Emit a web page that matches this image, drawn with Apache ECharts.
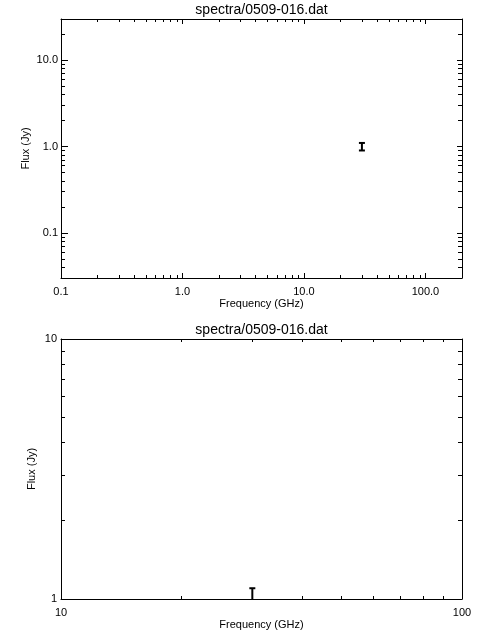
<!DOCTYPE html>
<html><head><meta charset="utf-8">
<script src="https://cdn.jsdelivr.net/npm/echarts@6/dist/echarts.min.js"></script>
<style>html,body{margin:0;padding:0;background:#fff}#c{width:480px;height:640px}</style>
</head><body><div id="c"></div>
<script>
// ---- data ----
const titleText = 'spectra/0509-016.dat';
const xName = 'Frequency (GHz)';
const yName = 'Flux (Jy)';

// top panel (log-log, wide range)
const topFreq = [30];
const topFlux = [1.0];
const topErr = [0.1];
const topXRange = [0.1, 200];
const topYRange = [0.03, 30];
const topXMajor = [0.1, 1, 10, 100];
const topXMinor = [0.2,0.3,0.4,0.5,0.6,0.7,0.8,0.9,2,3,4,5,6,7,8,9,20,30,40,50,60,70,80,90];
const topYMajor = [0.1, 1, 10];
const topYMinor = [0.04,0.05,0.06,0.07,0.08,0.09,0.2,0.3,0.4,0.5,0.6,0.7,0.8,0.9,2,3,4,5,6,7,8,9,20];

// bottom panel (zoomed)
const botFreq = [30];
const botFlux = [1.0];
const botErr = [0.1];
const botXRange = [10, 100];
const botYRange = [1, 10];
const botXMajor = [10, 100];
const botXMinor = [20,30,40,50,60,70,80,90];
const botYMajor = [1, 10];
const botYMinor = [2,3,4,5,6,7,8,9];

// ---- chart ----
const FONT = 'Liberation Sans';
const black = '#000';
const fmt1 = v => (Math.abs(v - 0.1) < 1e-9 ? '0.1' : Number(v).toFixed(1));
const fmt0 = v => String(Math.round(v));

function mkAxis(kind, grid, pos, range, ticks, len, opts) {
  opts = opts || {};
  const ax = {
    type: 'log', logBase: 10, gridIndex: grid, position: pos,
    min: range[0], max: range[1],
    axisLine: { show: !!opts.line, onZero: false, lineStyle: { color: black, width: 1 } },
    axisTick: { show: true, inside: true, length: len, customValues: ticks, lineStyle: { color: black, width: 1 } },
    axisLabel: { show: !!opts.labels },
    splitLine: { show: false },
    minorTick: { show: false },
    minorSplitLine: { show: false }
  };
  if (opts.labels) {
    ax.axisLabel = {
      show: true, customValues: opts.labels, formatter: opts.fmt,
      color: black, fontFamily: FONT, fontSize: 11, margin: opts.margin,
      hideOverlap: false, showMinLabel: true, showMaxLabel: true
    };
  }
  if (opts.name) {
    ax.name = opts.name;
    ax.nameLocation = 'middle';
    ax.nameGap = opts.nameGap;
    ax.nameMoveOverlap = false;
    ax.nameTextStyle = { color: black, fontFamily: FONT, fontSize: 11 };
    if (kind === 'y') ax.nameRotate = 90;
  }
  return ax;
}

const xAxes = [
  // top grid
  mkAxis('x', 0, 'bottom', topXRange, topXMajor, 5, { line: true, labels: topXMajor, fmt: fmt1, margin: 8, name: xName, nameGap: 20 }),
  mkAxis('x', 0, 'bottom', topXRange, topXMinor, 3),
  mkAxis('x', 0, 'top', topXRange, topXMajor, 5, { line: true }),
  mkAxis('x', 0, 'top', topXRange, topXMinor, 3),
  // bottom grid
  mkAxis('x', 1, 'bottom', botXRange, botXMajor, 5, { line: true, labels: botXMajor, fmt: fmt0, margin: 8, name: xName, nameGap: 20 }),
  mkAxis('x', 1, 'bottom', botXRange, botXMinor, 3),
  mkAxis('x', 1, 'top', botXRange, botXMajor, 5, { line: true }),
  mkAxis('x', 1, 'top', botXRange, botXMinor, 3)
];
const yAxes = [
  mkAxis('y', 0, 'left', topYRange, topYMajor, 7, { line: true, labels: topYMajor, fmt: fmt1, margin: 3, name: yName, nameGap: 30 }),
  mkAxis('y', 0, 'left', topYRange, topYMinor, 4),
  mkAxis('y', 0, 'right', topYRange, topYMajor, 5, { line: true }),
  mkAxis('y', 0, 'right', topYRange, topYMinor, 4),
  mkAxis('y', 1, 'left', botYRange, botYMajor, 7, { line: true, labels: botYMajor, fmt: fmt0, margin: 4, name: yName, nameGap: 24 }),
  mkAxis('y', 1, 'left', botYRange, botYMinor, 4),
  mkAxis('y', 1, 'right', botYRange, botYMajor, 5, { line: true }),
  mkAxis('y', 1, 'right', botYRange, botYMinor, 4)
];

function errRender(params, api) {
  const x = api.value(0), y = api.value(1), e = api.value(2);
  const hi = api.coord([x, y + e]);
  const lo = api.coord([x, y - e]);
  const cap = 3;
  const st = { stroke: black, lineWidth: 2 };
  return {
    type: 'group', children: [
      { type: 'line', shape: { x1: hi[0], y1: hi[1], x2: lo[0], y2: lo[1] }, style: st },
      { type: 'line', shape: { x1: hi[0] - cap, y1: hi[1], x2: hi[0] + cap, y2: hi[1] }, style: st },
      { type: 'line', shape: { x1: lo[0] - cap, y1: lo[1], x2: lo[0] + cap, y2: lo[1] }, style: st }
    ]
  };
}

const topData = topFreq.map((f, i) => [f, topFlux[i], topErr[i]]);
const botData = botFreq.map((f, i) => [f, botFlux[i], botErr[i]]);

const chart = echarts.init(document.getElementById('c'), null, { renderer: 'canvas' });
chart.setOption({
  animation: false,
  backgroundColor: '#fff',
  grid: [
    { left: 61, top: 19, width: 401, height: 259, containLabel: false },
    { left: 61, top: 339, width: 401, height: 260, containLabel: false }
  ],
  xAxis: xAxes,
  yAxis: yAxes,
  graphic: [
    { type: 'text', x: 261.5, y: 10, style: { text: titleText, fill: black, font: '14px "Liberation Sans"', textAlign: 'center', textVerticalAlign: 'middle' } },
    { type: 'text', x: 261.5, y: 330, style: { text: titleText, fill: black, font: '14px "Liberation Sans"', textAlign: 'center', textVerticalAlign: 'middle' } }
  ],
  series: [
    { type: 'custom', xAxisIndex: 0, yAxisIndex: 0, data: topData, renderItem: errRender, clip: true, encode: { x: 0, y: 1 } },
    { type: 'custom', xAxisIndex: 4, yAxisIndex: 4, data: botData, renderItem: errRender, clip: true, encode: { x: 0, y: 1 } }
  ]
});
</script></body></html>
